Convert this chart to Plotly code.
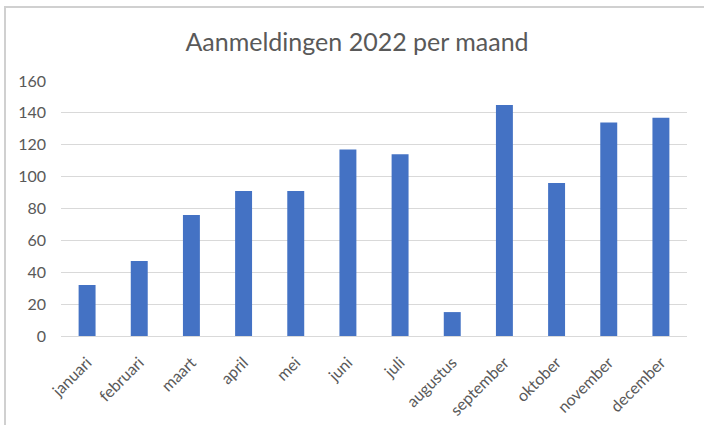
import plotly.graph_objects as go

months = ["januari", "februari", "maart", "april", "mei", "juni", "juli",
          "augustus", "september", "oktober", "november", "december"]
aanmeldingen = [32, 47, 76, 91, 91, 117, 114, 15, 145, 96, 134, 137]
y_ticks = [0, 20, 40, 60, 80, 100, 120, 140, 160]

W, H = 704, 425
ml, mr, mt, mb = 61, 17, 81, 89
pw, ph = W - ml - mr, H - mt - mb

fig = go.Figure(go.Bar(x=months, y=aanmeldingen, marker_color="#4472C4",
                       marker_line_width=0))

font = "Lato, Open Sans, sans-serif"
fig.update_layout(
    width=W, height=H,
    margin=dict(l=ml, r=mr, t=mt, b=mb, autoexpand=False),
    paper_bgcolor="white", plot_bgcolor="white",
    bargap=0.675,
    showlegend=False,
    title=dict(text="Aanmeldingen 2022 per maand", x=(357 - ml) / pw, xref="paper",
               xanchor="center", y=1 - 42 / H, yanchor="middle",
               font=dict(family=font, size=25, color="#595959")),
    font=dict(family=font, color="#595959", size=13),
)
fig.update_yaxes(range=[0, 160], tickvals=y_ticks, showgrid=True,
                 gridcolor="#d9d9d9", gridwidth=1, zeroline=False,
                 showline=False, ticks="", ticklabelstandoff=14, automargin=False,
                 tickfont=dict(size=16, color="#595959"))
fig.update_xaxes(showline=True, linecolor="#d9d9d9", linewidth=1, automargin=False,
                 tickangle=-45, ticks="", ticklabelstandoff=10,
                 tickfont=dict(size=16, color="#595959"))

# chart-area border (light gray frame)
x0 = (5 - ml) / pw
y1 = 1 + (mt - 7) / ph
fig.add_shape(type="rect", xref="paper", yref="paper", x0=x0, x1=1.2, y0=-0.6, y1=y1,
              line=dict(color="#d0d0d0", width=2), layer="below")

fig.write_html("out.html", config={"displayModeBar": False},
               post_script="document.body.style.margin='0';document.body.style.overflow='hidden';")
